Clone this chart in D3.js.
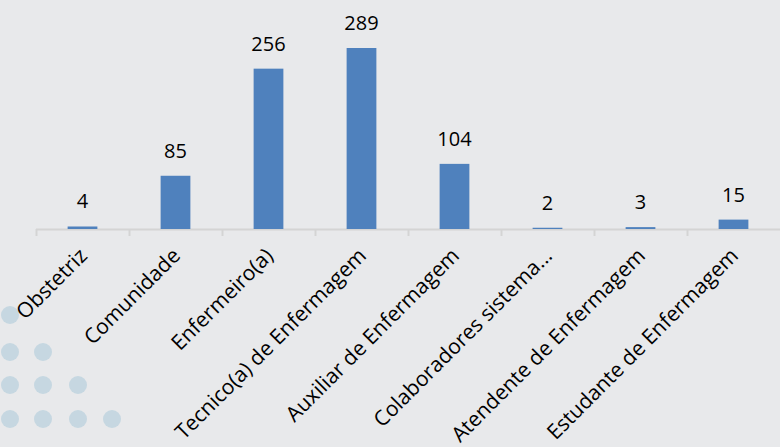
<!DOCTYPE html>
<html>
<head>
<meta charset="utf-8">
<script src="https://cdn.jsdelivr.net/npm/d3@7"></script>
<style>
  body { margin: 0; background: #e8e9eb; }
  svg { display: block; }
</style>
</head>
<body>
<div id="chart"></div>
<script>
// data
var categories = ["Obstetriz", "Comunidade", "Enfermeiro(a)", "Tecnico(a) de Enfermagem",
  "Auxiliar de Enfermagem", "Colaboradores sistema...", "Atendente de Enfermagem", "Estudante de Enfermagem"];
var values = [4, 85, 256, 289, 104, 2, 3, 15];

var svgWidth = 780;
var svgHeight = 447;

var margin = { top: 0, right: 0, bottom: 0, left: 36 };
var baseY = 229;

var svg = d3.select("#chart").append("svg")
  .attr("width", svgWidth)
  .attr("height", svgHeight);

svg.append("rect")
  .attr("width", svgWidth).attr("height", svgHeight)
  .attr("fill", "#e8e9eb");

// decorative dots, bottom left
var dotRows = [315, 352, 385, 419];
var dotCols = [10, 43, 78, 112];
dotRows.forEach(function (y, i) {
  for (var j = 0; j <= i; j++) {
    svg.append("circle")
      .attr("cx", dotCols[j]).attr("cy", y).attr("r", 9)
      .attr("fill", "#a9c8d8").attr("opacity", 0.55);
  }
});

var x = d3.scaleBand()
  .domain(categories)
  .range([margin.left, svgWidth])
  .paddingInner(0.68)
  .paddingOuter(0.34);

var y = d3.scaleLinear()
  .domain([0, 289])
  .range([baseY, 48]);

// axis: line with ticks between categories
var xOuter = d3.scaleBand().domain(categories).range([margin.left, svgWidth]);
var g = svg.append("g");
g.append("line")
  .attr("x1", margin.left).attr("x2", svgWidth)
  .attr("y1", baseY + 0.5).attr("y2", baseY + 0.5)
  .attr("stroke", "#d4d4d4").attr("stroke-width", 2);
var tickPos = categories.map(function (c) { return xOuter(c); });
g.selectAll(".tick")
  .data(tickPos)
  .enter()
  .append("line")
  .attr("x1", d => d + 0.5).attr("x2", d => d + 0.5)
  .attr("y1", baseY).attr("y2", baseY + 7)
  .attr("stroke", "#d4d4d4").attr("stroke-width", 2);

// bars
svg.selectAll(".bar")
  .data(values)
  .enter()
  .append("rect")
  .attr("x", (d, i) => x(categories[i]))
  .attr("y", d => y(d))
  .attr("width", x.bandwidth())
  .attr("height", d => baseY - y(d))
  .attr("fill", "#4f81bd");

// value labels
svg.selectAll(".val")
  .data(values)
  .enter()
  .append("text")
  .attr("x", (d, i) => x(categories[i]) + x.bandwidth() / 2)
  .attr("y", d => y(d) - 18)
  .attr("text-anchor", "middle")
  .attr("font-family", "'Open Sans', sans-serif")
  .attr("font-size", 20)
  .attr("fill", "#000")
  .text(d => d);

// category labels
svg.selectAll(".cat")
  .data(categories)
  .enter()
  .append("text")
  .attr("transform", d => "translate(" + (x(d) + x.bandwidth() / 2 + 6) + "," + (baseY + 28) + ") rotate(-45)")
  .attr("text-anchor", "end")
  .attr("font-family", "'Open Sans', sans-serif")
  .attr("font-size", 21)
  .attr("fill", "#000")
  .text(d => d);
</script>
</body>
</html>
